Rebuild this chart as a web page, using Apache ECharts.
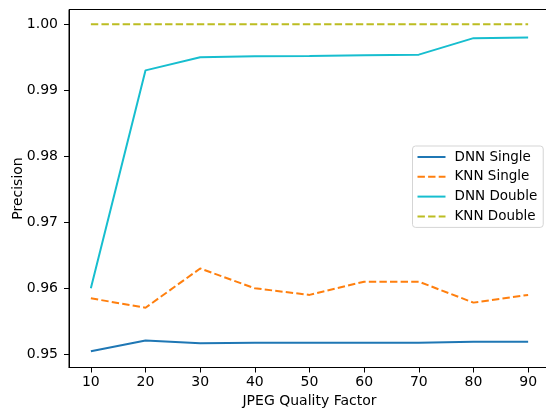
<!DOCTYPE html>
<html>
<head>
<meta charset="utf-8">
<script src="https://cdn.jsdelivr.net/npm/echarts@6/dist/echarts.min.js"></script>
<style>
html,body{margin:0;padding:0;background:#fff;overflow:hidden;}
#chart{width:546px;height:412px;}
</style>
</head>
<body>
<div id="chart"></div>
<script>
const quality = [10, 20, 30, 40, 50, 60, 70, 80, 90];
const dnnSingle = [0.95045, 0.9521, 0.95167, 0.95175, 0.95176, 0.95176, 0.95176, 0.9519, 0.9519];
const knnSingle = [0.95848, 0.95706, 0.9630, 0.9600, 0.9590, 0.9610, 0.9610, 0.95783, 0.9590];
const dnnDouble = [0.9600, 0.99302, 0.9950, 0.99515, 0.9952, 0.9953, 0.9954, 0.9979, 0.9980];
const knnDouble = [1.0, 1.0, 1.0, 1.0, 1.0, 1.0, 1.0, 1.0, 1.0];
const yTicks = [0.95, 0.96, 0.97, 0.98, 0.99, 1.00];
const seriesNames = ['DNN Single', 'KNN Single', 'DNN Double', 'KNN Double'];

const pairs = arr => quality.map((q, i) => [q, arr[i]]);
const font = 'DejaVu Sans';

function mkSeries(name, data, color, dashed) {
  return {
    name: name, type: 'line', data: pairs(data),
    symbol: 'none', showSymbol: false, smooth: false,
    lineStyle: { color: color, width: 2, type: dashed ? [7.4, 3.2] : 'solid', cap: 'butt' },
    itemStyle: { color: color },
    emphasis: { disabled: true }, animation: false
  };
}

const chart = echarts.init(document.getElementById('chart'), null, { renderer: 'canvas' });
chart.setOption({
  animation: false,
  backgroundColor: '#fff',
  grid: { left: 69, right: -4, top: 9.5, bottom: 44.5, containLabel: false, outerBoundsMode: 'none',
          show: true, borderColor: '#000', borderWidth: 1, backgroundColor: 'transparent' },
  xAxis: {
    type: 'value', min: 6, max: 94,
    name: 'JPEG Quality Factor', nameLocation: 'middle', nameGap: 26.5, nameMoveOverlap: false,
    nameTextStyle: { fontFamily: font, fontSize: 14, color: '#000', verticalAlign: 'top' },
    axisLine: { show: true, lineStyle: { color: '#000', width: 1 } },
    axisTick: { show: true, length: 5, lineStyle: { color: '#000', width: 1 }, customValues: quality },
    axisLabel: { fontFamily: font, fontSize: 14, color: '#000', margin: 8, customValues: quality },
    splitLine: { show: false }
  },
  yAxis: {
    type: 'value', min: 0.9480, max: 1.00224,
    name: 'Precision', nameLocation: 'middle', nameGap: 44, nameMoveOverlap: false,
    nameTextStyle: { fontFamily: font, fontSize: 14, color: '#000' },
    axisLine: { show: true, lineStyle: { color: '#000', width: 1 } },
    axisTick: { show: true, length: 5, lineStyle: { color: '#000', width: 1 }, customValues: yTicks },
    axisLabel: { fontFamily: font, fontSize: 14, color: '#000', margin: 11, customValues: yTicks,
                 formatter: v => v.toFixed(2) },
    splitLine: { show: false }
  },
  legend: {
    data: seriesNames, orient: 'vertical', left: 412.5, top: 146,
    itemWidth: 28, itemHeight: 14, itemGap: 5.8,
    padding: [4, 6, 4, 4],
    backgroundColor: '#fff', borderColor: '#d5d5d5', borderWidth: 1, borderRadius: 3,
    itemStyle: { opacity: 0, borderWidth: 0 },
    textStyle: { fontFamily: font, fontSize: 13.5, color: '#000', padding: [0, 0, 0, 4] },
    selectedMode: false
  },
  series: [
    mkSeries(seriesNames[0], dnnSingle, '#1f77b4', false),
    mkSeries(seriesNames[1], knnSingle, '#ff7f0e', true),
    mkSeries(seriesNames[2], dnnDouble, '#17becf', false),
    mkSeries(seriesNames[3], knnDouble, '#bcbd22', true)
  ]
});
</script>
</body>
</html>
